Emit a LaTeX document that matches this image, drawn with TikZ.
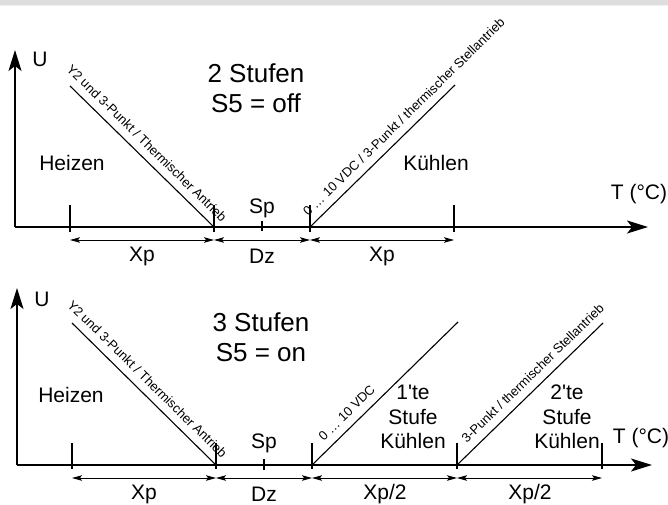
\documentclass[tikz,border=0pt]{standalone}
\usepackage{fontspec}
\setmainfont{Liberation Sans}[Ligatures=TeXOff]
\usetikzlibrary{arrows.meta}
\tikzset{
  axisline/.style={line width=1.6pt, -{Stealth[length=21pt,width=13pt,inset=5pt]}},
  ramp/.style={line width=1.1pt},
  tickline/.style={line width=1.1pt},
  dimline/.style={line width=0.9pt, {Stealth[length=10pt,width=5.5pt,inset=2pt]}-{Stealth[length=10pt,width=5.5pt,inset=2pt]}},
  lbl/.style={font=\fontsize{21}{25}\selectfont, inner sep=0pt},
  multi/.style={font=\fontsize{21}{24.5}\selectfont, align=center, inner sep=0pt},
  big/.style={font=\fontsize{26}{30}\selectfont, align=center, inner sep=0pt},
  rl/.style={font=\fontsize{13}{15}\selectfont, anchor=center, inner sep=0pt}
}
\begin{document}
\begin{tikzpicture}[x=1pt,y=-1pt]
\useasboundingbox (0,0) rectangle (668,505);
\fill[black!13] (0,0) rectangle (668,5);
\draw[black!6, line width=0.8pt] (0,5.5) -- (668,5.5);

% ---------- top diagram ----------
\coordinate (o1) at (15,227);
\coordinate (u1) at (15,50);
\coordinate (t1) at (648,227);
\draw[axisline] (o1) -- (u1);
\draw[axisline] (o1) -- (t1);
\node[lbl] (U1) at (40,59) {U};
\node[lbl] (T1) at (639,194) {T (°C)};

\coordinate (a1) at (70,227);
\coordinate (b1) at (214,227);
\coordinate (s1) at (262,227);
\coordinate (c1) at (310,227);
\coordinate (d1) at (454,227);
\foreach \p in {a1,b1,c1,d1}
  \draw[tickline] ([yshift=-5pt]\p) -- ([yshift=22pt]\p);
\draw[tickline] ([yshift=-4pt]s1) -- ([yshift=6pt]s1);

\coordinate (a1d) at (70,240);
\coordinate (b1d) at (214,240);
\coordinate (c1d) at (310,240);
\coordinate (d1d) at (454,240);
\draw[dimline] (a1d) -- (b1d);
\draw[dimline] (b1d) -- (c1d);
\draw[dimline] (c1d) -- (d1d);
\node[lbl] (xp1) at (142,256) {Xp};
\node[lbl] (dz1) at (262,256) {Dz};
\node[lbl] (xp2) at (382,256) {Xp};

\coordinate (h1) at (70,86);
\draw[ramp] (h1) -- (b1);
\node[rl, rotate=-44.4] (r1) at (146.8,143.1) {Y2 und 3-Punkt / Thermischer Antrieb};
\coordinate (k1) at (455,85);
\draw[ramp] (c1) -- (k1);
\node[rl, rotate=44.4] (r2) at (403.8,117.0) {0 … 10 VDC / 3-Punkt / thermischer Stellantrieb};

\node[big] (st1) at (256,88) {2 Stufen\\S5 = off};
\node[lbl] (hz1) at (72,163) {Heizen};
\node[lbl] (sp1) at (262,208) {Sp};
\node[lbl] (kl1) at (436,163) {Kühlen};

% ---------- bottom diagram ----------
\coordinate (o2) at (17,465);
\coordinate (u2) at (17,288);
\coordinate (t2) at (652,465);
\draw[axisline] (o2) -- (u2);
\draw[axisline] (o2) -- (t2);
\node[lbl] (U2) at (42,299) {U};
\node[lbl] (T2) at (641,438) {T (°C)};

\coordinate (a2) at (72,465);
\coordinate (b2) at (216,465);
\coordinate (s2) at (264,465);
\coordinate (c2) at (312,465);
\coordinate (d2) at (457,465);
\coordinate (e2) at (602,465);
\foreach \p in {a2,b2,c2,d2,e2}
  \draw[tickline] ([yshift=-4pt]\p) -- ([yshift=22pt]\p);
\draw[tickline] ([yshift=-5pt]s2) -- ([yshift=6pt]s2);

\coordinate (a2d) at (72,478);
\coordinate (b2d) at (216,478);
\coordinate (c2d) at (312,478);
\coordinate (d2d) at (457,478);
\coordinate (e2d) at (602,478);
\draw[dimline] (a2d) -- (b2d);
\draw[dimline] (b2d) -- (c2d);
\draw[dimline] (c2d) -- (d2d);
\draw[dimline] (d2d) -- (e2d);
\node[lbl] (xp3) at (144,494) {Xp};
\node[lbl] (dz2) at (264,494) {Dz};
\node[lbl] (xp4) at (385,494) {Xp/2};
\node[lbl] (xp5) at (530,494) {Xp/2};

\coordinate (h2) at (72,323);
\draw[ramp] (h2) -- (b2);
\node[rl, rotate=-44.6] (r3) at (147.3,379.1) {Y2 und 3-Punkt / Thermischer Antrieb};
\coordinate (k2) at (458,322);
\draw[ramp] (c2) -- (k2);
\node[rl, rotate=44.4] (r4) at (346.7,412.9) {0 … 10 VDC};
\coordinate (k3) at (603,323);
\draw[ramp] (d2) -- (k3);
\node[rl, rotate=44.2] (r5) at (532.6,373.3) {3-Punkt / thermischer Stellantrieb};

\node[big] (st2) at (261,337) {3 Stufen\\S5 = on};
\node[lbl] (hz2) at (71,395) {Heizen};
\node[lbl] (sp2) at (264,443) {Sp};
\node[multi] (kl2) at (413,417) {1'te\\Stufe\\Kühlen};
\node[multi] (kl3) at (567,417) {2'te\\Stufe\\Kühlen};
\end{tikzpicture}
\end{document}
